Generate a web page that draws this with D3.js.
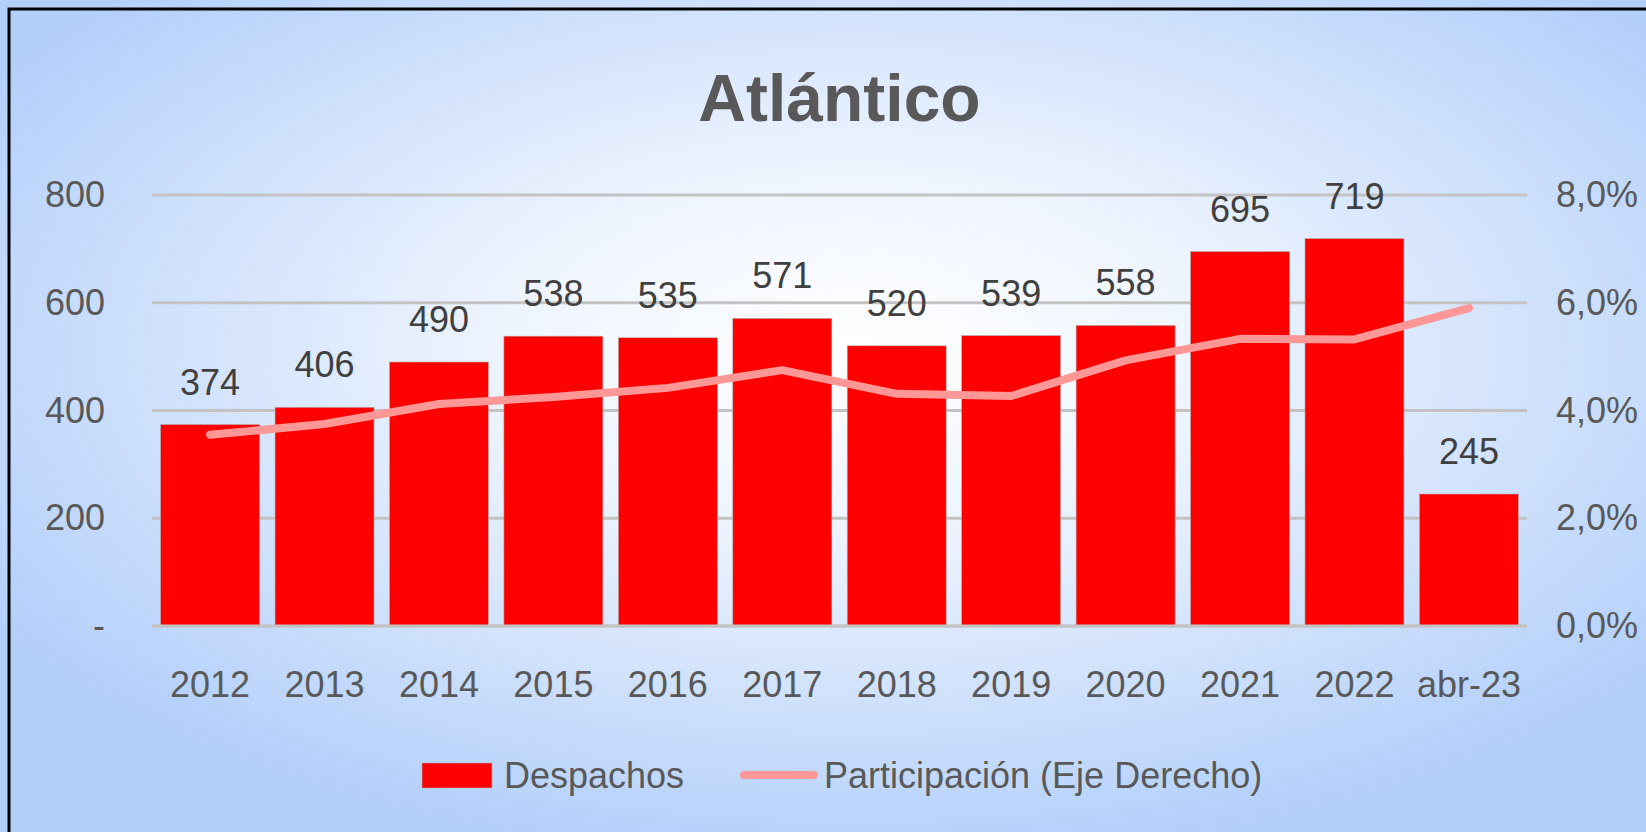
<!DOCTYPE html>
<html>
<head>
<meta charset="utf-8">
<script src="https://cdn.jsdelivr.net/npm/d3@7"></script>
<style>
  body { margin: 0; background: #b8d3fa; }
  text { font-family: "Liberation Sans", Arial, sans-serif; }
</style>
</head>
<body>
<div id="chart-container"></div>
<script>
// Data
var categories = ["2012", "2013", "2014", "2015", "2016", "2017", "2018", "2019", "2020", "2021", "2022", "abr-23"];
var despachos = [374, 406, 490, 538, 535, 571, 520, 539, 558, 695, 719, 245];
var participacion = [0.0355, 0.0375, 0.0412, 0.0425, 0.0442, 0.0475, 0.0431, 0.0427, 0.0493, 0.0533, 0.0532, 0.0590];
var leftTicks = [0, 200, 400, 600, 800];
var rightTicks = [0, 0.02, 0.04, 0.06, 0.08];

var W = 1646, H = 832;
var plot = { left: 152, right: 1527, top: 195, bottom: 626 };

var svg = d3.select("#chart-container")
  .append("svg")
  .attr("width", W)
  .attr("height", H);

// background gradient
var defs = svg.append("defs");
var grad = defs.append("radialGradient")
  .attr("id", "bg")
  .attr("cx", "0.52").attr("cy", "0.42").attr("r", "0.62");
grad.append("stop").attr("offset", "0").attr("stop-color", "#ffffff");
grad.append("stop").attr("offset", "0.35").attr("stop-color", "#eef4fe");
grad.append("stop").attr("offset", "1").attr("stop-color", "#b2cffa");

svg.append("rect")
  .attr("width", W).attr("height", H)
  .attr("fill", "url(#bg)");

// frame (only top and left visible)
svg.append("path")
  .attr("d", "M9," + H + "V9H" + W)
  .attr("fill", "none")
  .attr("stroke", "#000")
  .attr("stroke-width", 3);

// Title
svg.append("text")
  .attr("x", (plot.left + plot.right) / 2)
  .attr("y", 121)
  .attr("text-anchor", "middle")
  .style("font-size", "66px")
  .style("font-weight", "bold")
  .style("fill", "#595959")
  .text("Atlántico");

// Scales
var x = d3.scaleBand()
  .domain(categories)
  .range([plot.left, plot.right])
  .paddingInner(0.135)
  .paddingOuter(0.075);
var y = d3.scaleLinear().domain([0, 800]).range([plot.bottom, plot.top]);
var y2 = d3.scaleLinear().domain([0, 0.08]).range([plot.bottom, plot.top]);

// gridlines
svg.append("g")
  .selectAll("line")
  .data(leftTicks)
  .enter().append("line")
  .attr("x1", plot.left)
  .attr("x2", plot.right)
  .attr("y1", function(d) { return y(d); })
  .attr("y2", function(d) { return y(d); })
  .style("stroke", "#c3c3c3")
  .style("stroke-width", 3);

// Left axis
var leftAxis = svg.append("g")
  .attr("transform", "translate(" + plot.left + ",0)")
  .call(d3.axisLeft(y).tickValues(leftTicks).tickSize(0).tickPadding(47)
    .tickFormat(function(d) { return d === 0 ? "-" : d; }));
leftAxis.select(".domain").remove();
leftAxis.selectAll("text")
  .style("font-size", "36px")
  .style("fill", "#595959");

// Right axis
var rightAxis = svg.append("g")
  .attr("transform", "translate(" + plot.right + ",0)")
  .call(d3.axisRight(y2).tickValues(rightTicks).tickSize(0).tickPadding(29)
    .tickFormat(function(d) { return d3.format(".1f")(d * 100).replace(".", ",") + "%"; }));
rightAxis.select(".domain").remove();
rightAxis.selectAll("text")
  .style("font-size", "36px")
  .style("fill", "#595959");

// Bars
svg.append("g")
  .selectAll("rect")
  .data(despachos)
  .enter().append("rect")
  .attr("x", function(d, i) { return x(categories[i]); })
  .attr("y", function(d) { return y(d); })
  .attr("width", x.bandwidth())
  .attr("height", function(d) { return y(0) - y(d); })
  .style("fill", "#ff0000")
  .style("stroke", "#b0b0b0")
  .style("stroke-width", 0.6);

// Bar value labels
svg.append("g")
  .selectAll("text")
  .data(despachos)
  .enter().append("text")
  .attr("x", function(d, i) { return x(categories[i]) + x.bandwidth() / 2; })
  .attr("y", function(d) { return y(d) - 30; })
  .attr("text-anchor", "middle")
  .style("font-size", "36px")
  .style("fill", "#404040")
  .text(function(d) { return d; });

// X axis baseline + labels
svg.append("line")
  .attr("x1", plot.left).attr("x2", plot.right)
  .attr("y1", y(0)).attr("y2", y(0))
  .style("stroke", "#c3c3c3")
  .style("stroke-width", 3);

var xAxis = svg.append("g")
  .attr("transform", "translate(0," + plot.bottom + ")")
  .call(d3.axisBottom(x).tickSize(0).tickPadding(58));
xAxis.select(".domain").remove();
xAxis.selectAll("text")
  .attr("dy", "0.35em")
  .style("font-size", "36px")
  .style("fill", "#595959");

// Participation line (right axis)
var line = d3.line()
  .x(function(d, i) { return x(categories[i]) + x.bandwidth() / 2; })
  .y(function(d) { return y2(d); });

svg.append("path")
  .datum(participacion)
  .attr("d", line)
  .style("fill", "none")
  .style("stroke", "#ff9797")
  .style("stroke-width", 8)
  .style("stroke-linecap", "round")
  .style("stroke-linejoin", "round");

// Legend
var legY = 775;
svg.append("rect")
  .attr("x", 422).attr("y", legY - 12)
  .attr("width", 70).attr("height", 25)
  .style("fill", "#ff0000")
  .style("stroke", "#b0b0b0")
  .style("stroke-width", 0.6);
svg.append("text")
  .attr("x", 504).attr("y", legY)
  .attr("dy", "0.35em")
  .style("font-size", "36px")
  .style("fill", "#595959")
  .text("Despachos");

svg.append("line")
  .attr("x1", 744).attr("x2", 814)
  .attr("y1", legY).attr("y2", legY)
  .style("stroke", "#ff9797")
  .style("stroke-width", 8)
  .style("stroke-linecap", "round");
svg.append("text")
  .attr("x", 824).attr("y", legY)
  .attr("dy", "0.35em")
  .style("font-size", "36px")
  .style("fill", "#595959")
  .text("Participación (Eje Derecho)");
</script>
</body>
</html>
